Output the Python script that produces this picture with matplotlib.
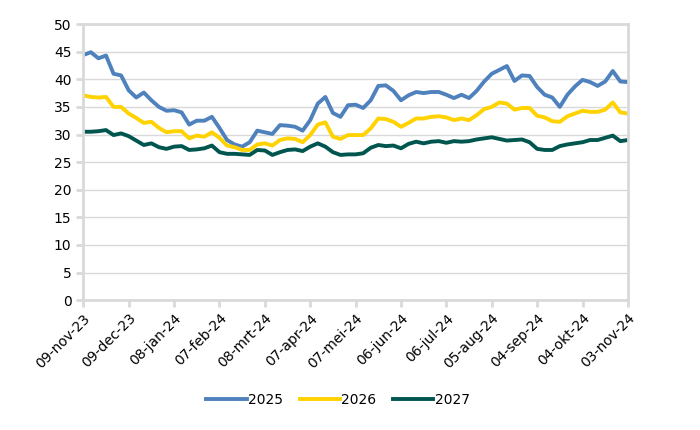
import numpy as np
import pandas as pd
import matplotlib
matplotlib.use("Agg")
import matplotlib.pyplot as plt

# one point every 5 days, 09-nov-23 .. 03-nov-24
dates = pd.date_range("2023-11-09", "2024-11-03", freq="5D")

y2025 = [44.4, 44.9, 43.8, 44.3, 41.0, 40.7, 38.0, 36.7, 37.6, 36.2,
         35.0, 34.3, 34.4, 34.0, 31.8, 32.5, 32.5, 33.2, 31.2, 29.0,
         28.2, 27.8, 28.6, 30.7, 30.4, 30.1, 31.7, 31.6, 31.4, 30.7,
         32.6, 35.6, 36.8, 33.9, 33.2, 35.3, 35.4, 34.8, 36.2, 38.8,
         38.9, 37.9, 36.2, 37.1, 37.7, 37.5, 37.7, 37.7, 37.2, 36.6,
         37.2, 36.6, 37.9, 39.6, 41.0, 41.7, 42.4, 39.7, 40.7, 40.6,
         38.6, 37.2, 36.7, 35.0, 37.2, 38.7, 39.9, 39.5, 38.8, 39.6,
         41.5, 39.6, 39.5]

y2026 = [37.1, 36.8, 36.7, 36.8, 35.0, 35.0, 33.8, 33.0, 32.1, 32.3,
         31.2, 30.4, 30.6, 30.6, 29.3, 29.8, 29.6, 30.4, 29.4, 28.0,
         27.7, 27.2, 27.2, 28.2, 28.4, 28.0, 29.0, 29.3, 29.2, 28.6,
         29.9, 31.8, 32.2, 29.6, 29.2, 29.9, 29.9, 29.9, 31.1, 32.9,
         32.8, 32.3, 31.4, 32.1, 32.9, 32.9, 33.2, 33.3, 33.1, 32.6,
         32.9, 32.6, 33.5, 34.6, 35.0, 35.8, 35.6, 34.5, 34.8, 34.8,
         33.4, 33.1, 32.4, 32.3, 33.3, 33.8, 34.3, 34.1, 34.1, 34.5,
         35.8, 34.0, 33.8]

y2027 = [30.5, 30.5, 30.6, 30.8, 29.9, 30.2, 29.7, 28.9, 28.1, 28.4,
         27.7, 27.4, 27.8, 27.9, 27.2, 27.3, 27.5, 28.0, 26.8, 26.5,
         26.5, 26.4, 26.3, 27.2, 27.1, 26.3, 26.8, 27.2, 27.3, 27.0,
         27.8, 28.4, 27.8, 26.8, 26.3, 26.4, 26.4, 26.6, 27.6, 28.1,
         27.9, 28.0, 27.5, 28.3, 28.7, 28.4, 28.7, 28.8, 28.5, 28.8,
         28.7, 28.8, 29.1, 29.3, 29.5, 29.2, 28.9, 29.0, 29.1, 28.6,
         27.4, 27.2, 27.2, 27.9, 28.2, 28.4, 28.6, 29.0, 29.0, 29.4,
         29.8, 28.8, 29.0]

tick_dates = pd.date_range("2023-11-09", "2024-11-03", freq="30D")
tick_labels = ["09-nov-23", "09-dec-23", "08-jan-24", "07-feb-24", "08-mrt-24",
               "07-apr-24", "07-mei-24", "06-jun-24", "06-jul-24", "05-aug-24",
               "04-sep-24", "04-okt-24", "03-nov-24"]

plt.rcParams["font.family"] = ["DejaVu Sans"]
grey = "#d9d9d9"

fig = plt.figure(figsize=(7, 4.3), dpi=100)
ax = fig.add_axes([0.119, 0.302, 0.778, 0.642])

ax.plot(dates, y2025, color="#4f81bd", lw=2.8, label="2025")
ax.plot(dates, y2026, color="#ffd200", lw=2.8, label="2026")
ax.plot(dates, y2027, color="#00564f", lw=2.8, label="2027")

ax.set_ylim(0, 50)
ax.set_yticks(np.arange(0, 51, 5))
ax.set_xlim(tick_dates[0], tick_dates[-1])
ax.set_xticks(tick_dates)
ax.set_xticklabels(tick_labels, rotation=45, ha="right", rotation_mode="anchor")

ax.grid(axis="y", color=grey, lw=1)
ax.set_axisbelow(True)
for s in ax.spines.values():
    s.set_color(grey)
    s.set_linewidth(2)
ax.tick_params(axis="both", colors=grey, width=2, length=5, labelsize=10,
               labelcolor="black")
ax.tick_params(axis="x", pad=3)

fig.legend(loc="center", bbox_to_anchor=(0.483, 0.07), ncol=3, frameon=False,
           fontsize=10, handlelength=2.9, handletextpad=0.1, columnspacing=1.2)

fig.savefig("out.png", dpi=100)
